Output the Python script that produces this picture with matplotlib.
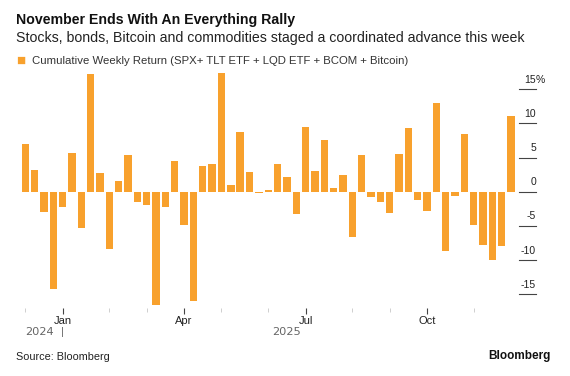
import pandas as pd
import matplotlib
matplotlib.use('Agg')
import matplotlib.pyplot as plt

plt.rcParams['font.family'] = ['Liberation Sans', 'DejaVu Sans']

# weekly readings, Dec 2024 -> end of Nov 2025 (last one is the latest print)
week_dates = list(pd.date_range('2024-12-05', '2025-11-27', freq='7D')) + [pd.Timestamp('2025-11-28')]
weekly_return = [7.0, 3.2, -2.9, -14.2, -2.3, 5.7, -5.3, 17.2, 2.8, -8.4,
                 1.6, 5.4, -1.5, -1.9, -16.6, -2.2, 4.5, -4.9, -16.0, 3.7,
                 4.0, 17.4, 1.0, 8.7, 2.9, -0.25, 0.2, 4.1, 2.2, -3.3,
                 9.5, 3.0, 7.5, 0.6, 2.5, -6.6, 5.3, -0.8, -1.5, -3.1,
                 5.5, 9.3, -1.2, -2.8, 12.9, -8.7, -0.7, 8.4, -4.9, -7.8,
                 -10.0, -7.9, 11.1]
y_ticks = [-15, -10, -5, 0, 5, 10, 15]
major_months = {1: 'Jan', 4: 'Apr', 7: 'Jul', 10: 'Oct'}

orange = '#F8A12D'
W, H = 570, 376

fig = plt.figure(figsize=(W / 100, H / 100), dpi=100)
ax = fig.add_axes([19.7 / W, 68 / H, 497 / W, 236 / H])

x = list(range(len(weekly_return)))
ax.bar(x, weekly_return, width=0.79, color=orange)
ax.set_xlim(-0.6, 52.6)
ax.set_ylim(-17, 17.5)

for s in ax.spines.values():
    s.set_visible(False)

# month ticks sit on the first week of each month
major, minor, labels = [], [], []
prev = None
for i, d in enumerate(week_dates):
    if d.month != prev:
        if d.month in major_months:
            major.append(i)
            labels.append(major_months[d.month])
        else:
            minor.append(i)
    prev = d.month
ax.set_xticks(major)
ax.set_xticklabels(labels)
ax.set_xticks(minor, minor=True)
ax.tick_params(axis='x', which='major', length=4, width=0.8, color='#444',
               labelsize=8, labelcolor='#222', pad=2)
ax.tick_params(axis='x', which='minor', length=3, width=0.6, color='#c8c8c8')

# year labels centred over their weeks
years = pd.Series([d.year for d in week_dates])
for yr in years.unique():
    idx = years[years == yr].index
    ax.text((idx[0] + idx[-1]) / 2, -0.1, str(yr), transform=ax.get_xaxis_transform(),
            ha='center', va='center', fontsize=8.2, color='#666', family='DejaVu Sans')
first_2025 = years[years == 2025].index[0]
ax.text(first_2025, -0.1, '|', transform=ax.get_xaxis_transform(),
        ha='center', va='center', fontsize=8, color='#666')

# right-hand y labels with little rule underneath
ax.set_yticks([])
ytr = ax.get_yaxis_transform()
for v in y_ticks:
    ax.plot([1.005, 1.039], [v, v], transform=ytr, color='#444', lw=0.8, clip_on=False)
    ax.text(1.039, v + 1.4, str(v), transform=ytr, ha='right', va='center',
            fontsize=7.5, color='#222')
ax.text(1.039, 15 + 1.4, '%', transform=ytr, ha='left', va='center',
        fontsize=7.5, color='#222')

fig.text(16 / W, 1 - 20 / H, 'November Ends With An Everything Rally',
         fontsize=10.2, fontweight='bold', color='#111', va='center')
fig.text(16 / W, 1 - 38 / H,
         'Stocks, bonds, Bitcoin and commodities staged a coordinated advance this week',
         fontsize=10.2, color='#222', va='center')
fig.text(16 / W, 1 - 61 / H, '\u25A0', fontsize=11, color=orange, va='center')
fig.text(31.5 / W, 1 - 61 / H,
         'Cumulative Weekly Return (SPX+ TLT ETF + LQD ETF + BCOM + Bitcoin)',
         fontsize=8.2, color='#333', va='center')
fig.text(16 / W, 1 - 357 / H, 'Source: Bloomberg', fontsize=7.8, color='#222', va='center')
fig.text(551 / W, 1 - 356 / H, 'Bloomberg', fontsize=8.5, fontweight='bold',
         color='#111', va='center', ha='right')

fig.savefig('out.png', dpi=100)
